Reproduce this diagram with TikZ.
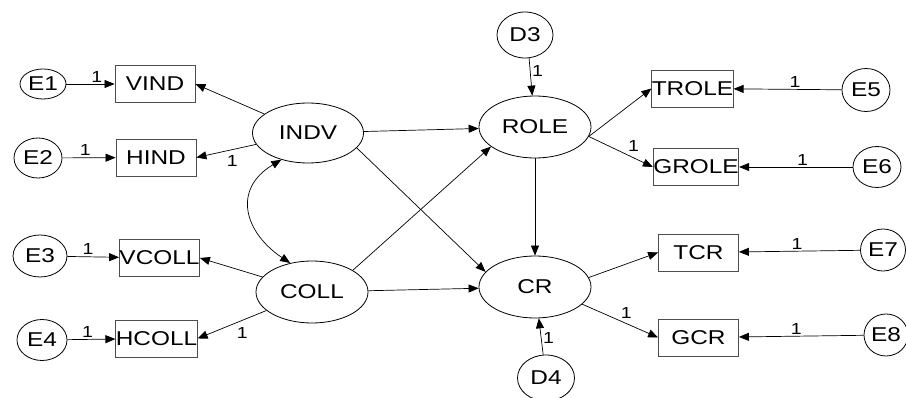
\documentclass[tikz,border=0pt]{standalone}
\usepackage{fontspec}
\setmainfont{Liberation Sans}[FakeStretch=1.22]
\usetikzlibrary{arrows.meta,shapes.geometric}

\begin{document}
\begin{tikzpicture}[x=1pt,y=-1pt,font=\fontsize{20}{22}\selectfont]

% =========================
% Canvas
% =========================
\useasboundingbox (0,0) rectangle (906,398);

% =========================
% Styles
% =========================
\tikzset{
    latent/.style={
        draw,
        ellipse,
        line width=0.8pt,
        inner sep=0pt,
        minimum width=112pt,
        minimum height=62pt
    },
    resid/.style={
        draw,
        ellipse,
        line width=0.8pt,
        inner sep=0pt,
        minimum width=48pt,
        minimum height=40pt
    },
    observed/.style={
        draw=black!70,
        rectangle,
        line width=0.8pt,
        inner sep=0pt,
        minimum width=80pt,
        minimum height=37pt
    },
    effect/.style={-{Triangle[length=10pt,width=8pt]}, line width=0.7pt},
    weight/.style={font=\fontsize{16}{17}\selectfont, inner sep=1.5pt}
}

% =========================
% Latent variables
% =========================
\node[latent, minimum width=111pt, minimum height=60pt] (INDV) at (308,133) {INDV};
\node[latent] (COLL) at (312,292) {COLL};
\node[latent] (ROLE) at (535,127) {ROLE};
\node[latent] (CR) at (535,287) {CR};

% =========================
% Indicators
% =========================
\node[observed] (VIND) at (155,84) {VIND};
\node[observed] (HIND) at (156,157.5) {HIND};
\node[observed] (VCOLL) at (159.5,258) {VCOLL};
\node[observed] (HCOLL) at (156.5,338.5) {HCOLL};
\node[observed] (TROLE) at (692.5,88.5) {TROLE};
\node[observed] (GROLE) at (696,167) {GROLE};
\node[observed] (TCR) at (698.5,252.5) {TCR};
\node[observed] (GCR) at (698.5,337.5) {GCR};

% =========================
% Error terms & disturbances
% =========================
\node[resid, minimum width=46pt, minimum height=30pt] (E1) at (43,84) {E1};
\node[resid] (E2) at (38,158) {E2};
\node[resid, minimum width=54pt, minimum height=42pt] (E3) at (40,256) {E3};
\node[resid, minimum width=50pt, minimum height=41pt] (E4) at (42,340) {E4};
\node[resid, minimum height=43pt] (E5) at (866,90) {E5};
\node[resid, minimum height=41pt] (E6) at (877,167) {E6};
\node[resid, minimum width=45pt, minimum height=42pt] (E7) at (883,250) {E7};
\node[resid, minimum width=44pt, minimum height=42pt] (E8) at (886,335) {E8};
\node[resid, minimum width=56pt, minimum height=46pt] (D3) at (525,35) {D3};
\node[resid, minimum width=57pt, minimum height=46pt] (D4) at (546,378) {D4};

% =========================
% Measurement paths
% =========================
\draw[effect] (E1) -- (VIND) node[weight, pos=0.63, above] {1};
\draw[effect] (E2) -- (HIND) node[weight, pos=0.43, above] {1};
\draw[effect] (E3) -- (VCOLL) node[weight, pos=0.4, above] {1};
\draw[effect] (E4) -- (HCOLL) node[weight, pos=0.42, above] {1};
\draw[effect] (E5) -- (TROLE) node[weight, pos=0.43, above] {1};
\draw[effect] (E6) -- (GROLE) node[weight, pos=0.44, above] {1};
\draw[effect] (E7) -- (TCR) node[weight, pos=0.52, above] {1};
\draw[effect] (E8) -- (GCR) node[weight, pos=0.54, above] {1};

\draw[effect] (INDV) -- (VIND.east);
\draw[effect] (INDV) -- (HIND.east) node[weight, pos=0.4, below=4pt] {1};
\draw[effect] (COLL) -- (VCOLL.east);
\draw[effect] (COLL) -- (HCOLL.east) node[weight, pos=0.35, below=5pt] {1};
\draw[effect] (ROLE.-10) -- (TROLE.west);
\draw[effect] (ROLE.-10) -- (GROLE.west) node[weight, pos=0.7, above=4pt] {1};
\draw[effect] (CR.10) -- (TCR.west);
\draw[effect] (CR.-20) -- (GCR.west) node[weight, pos=0.58, above=3pt] {1};

% =========================
% Structural paths
% =========================
\draw[effect] (INDV) -- (ROLE);
\draw[effect] (INDV.-17) -- (CR.163);
\draw[effect] (COLL.28) -- (ROLE.204);
\draw[effect] (COLL) -- (CR);
\draw[effect] (ROLE) -- (CR);
\draw[effect] (D3.-80) -- (ROLE.95) node[weight, pos=0.35, right] {1};
\draw[effect] (D4) -- (CR) node[weight, pos=0.45, right] {1};

% covariance between the exogenous factors
\draw[{Triangle[length=10pt,width=8pt]}-{Triangle[length=10pt,width=8pt]}, line width=0.7pt]
    (INDV.225) .. controls +(-50,30) and +(-45,-30) .. (COLL.127);

\end{tikzpicture}
\end{document}
